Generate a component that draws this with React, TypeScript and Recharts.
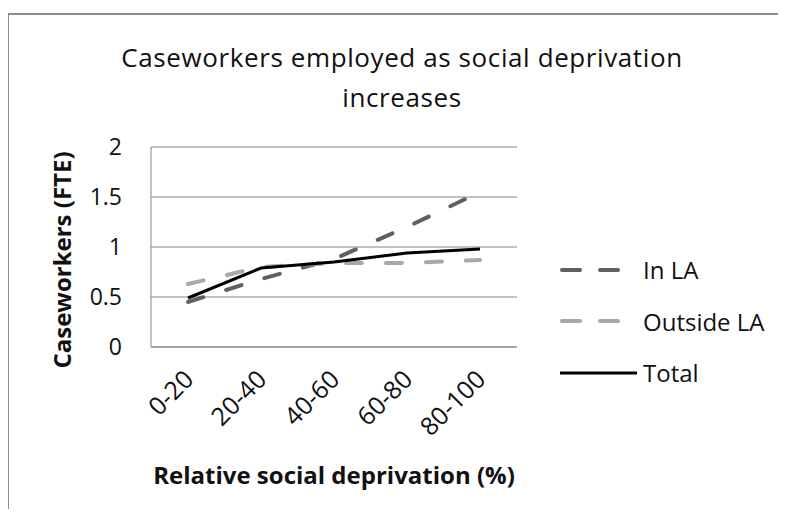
import React from "react"
import { CartesianGrid, Legend, Line, LineChart, XAxis, YAxis } from "recharts"

const categories = ["0-20", "20-40", "40-60", "60-80", "80-100"]
const inLA = [0.45, 0.68, 0.88, 1.2, 1.55]
const outsideLA = [0.63, 0.8, 0.84, 0.84, 0.87]
const total = [0.49, 0.79, 0.85, 0.94, 0.98]
const yTicks = [0, 0.5, 1, 1.5, 2]

const data = categories.map((name, i) => ({
  name,
  inLA: inLA[i],
  outsideLA: outsideLA[i],
  total: total[i],
}))

const FONT = "'Open Sans', Lato, sans-serif"
const GRID = "#868686"
const TEXT = "#111"

const lineStyles = {
  inLA: { stroke: "#606060", dash: "16 24", width: 4 },
  outsideLA: { stroke: "#a8a8a8", dash: "16 24", width: 4 },
  total: { stroke: "#000000", dash: undefined, width: 3 },
}

function XTick({ x, y, payload }) {
  return (
    <g transform={`translate(${x + 7},${y + 34})`}>
      <text
        x={0}
        y={0}
        textAnchor="end"
        transform="rotate(-45)"
        fontSize={25}
        fontFamily={FONT}
        fill={TEXT}
      >
        {payload.value}
      </text>
    </g>
  )
}

function LegendBox({ payload }) {
  return (
    <div style={{ fontFamily: FONT }}>
      {(payload || []).map((entry) => {
        const st = lineStyles[entry.dataKey]
        return (
          <div
            key={entry.dataKey}
            style={{ display: "flex", alignItems: "center", height: 51.5 }}
          >
            <svg width={80} height={20}>
              {st.dash ? (
                <line
                  x1={2}
                  x2={58}
                  y1={10}
                  y2={10}
                  stroke={st.stroke}
                  strokeWidth={st.width}
                  strokeDasharray="18 20"
                  strokeLinecap="round"
                />
              ) : (
                <line x1={0} x2={77} y1={10} y2={10} stroke={st.stroke} strokeWidth={st.width} />
              )}
            </svg>
            <span style={{ fontSize: 24, color: TEXT, marginLeft: 3 }}>{entry.value}</span>
          </div>
        )
      })}
    </div>
  )
}

export default function App() {
  return (
    <div
      style={{
        position: "relative",
        width: 786,
        height: 517,
        margin: -8,
        overflow: "hidden",
        background: "#fff",
        fontFamily: FONT,
      }}
    >
      <div
        style={{
          position: "absolute",
          left: 7,
          top: 13,
          width: 1000,
          height: 1000,
          borderLeft: "2px solid #8c8c8c",
          borderTop: "2px solid #8c8c8c",
        }}
      />
      <div
        style={{
          position: "absolute",
          left: 0,
          top: 37,
          width: 804,
          textAlign: "center",
          fontSize: 26,
          letterSpacing: 0.6,
          lineHeight: "40px",
          color: TEXT,
        }}
      >
        Caseworkers employed as social deprivation
        <br />
        increases
      </div>
      <div
        style={{
          position: "absolute",
          left: 62 - 150,
          top: 260 - 14,
          width: 300,
          height: 28,
          lineHeight: "28px",
          textAlign: "center",
          fontSize: 24,
          fontWeight: "bold",
          color: TEXT,
          transform: "rotate(-90deg)",
        }}
      >
        Caseworkers (FTE)
      </div>
      <div
        style={{
          position: "absolute",
          left: 334 - 200,
          top: 475 - 14,
          width: 400,
          lineHeight: "28px",
          textAlign: "center",
          fontSize: 24,
          fontWeight: "bold",
          color: TEXT,
        }}
      >
        Relative social deprivation (%)
      </div>
      <div style={{ position: "absolute", left: 0, top: 0 }}>
        <LineChart
          width={786}
          height={517}
          data={data}
          margin={{ top: 147, right: 269, bottom: 110, left: 91 }}
        >
          <CartesianGrid horizontal vertical={false} stroke={GRID} />
          <XAxis
            dataKey="name"
            height={60}
            padding={{ left: 37, right: 37 }}
            axisLine={{ stroke: GRID }}
            tickLine={false}
            tickSize={0}
            tickMargin={0}
            interval={0}
            tick={<XTick />}
          />
          <YAxis
            width={60}
            domain={[0, 2]}
            ticks={yTicks}
            axisLine={{ stroke: GRID }}
            tickLine={false}
            tickSize={0}
            tickMargin={29}
            tick={{ fontSize: 23, fill: TEXT, fontFamily: FONT }}
          />
          <Legend
            layout="vertical"
            align="center"
            verticalAlign="middle"
            wrapperStyle={{ left: 560, top: 244, width: 226 }}
            content={<LegendBox />}
          />
          <Line
            dataKey="inLA"
            name="In LA"
            stroke={lineStyles.inLA.stroke}
            strokeWidth={lineStyles.inLA.width}
            strokeDasharray={lineStyles.inLA.dash}
            strokeLinecap="round"
            dot={false}
            isAnimationActive={false}
          />
          <Line
            dataKey="outsideLA"
            name="Outside LA"
            stroke={lineStyles.outsideLA.stroke}
            strokeWidth={lineStyles.outsideLA.width}
            strokeDasharray={lineStyles.outsideLA.dash}
            strokeLinecap="round"
            dot={false}
            isAnimationActive={false}
          />
          <Line
            dataKey="total"
            name="Total"
            stroke={lineStyles.total.stroke}
            strokeWidth={lineStyles.total.width}
            dot={false}
            isAnimationActive={false}
          />
        </LineChart>
      </div>
    </div>
  )
}
